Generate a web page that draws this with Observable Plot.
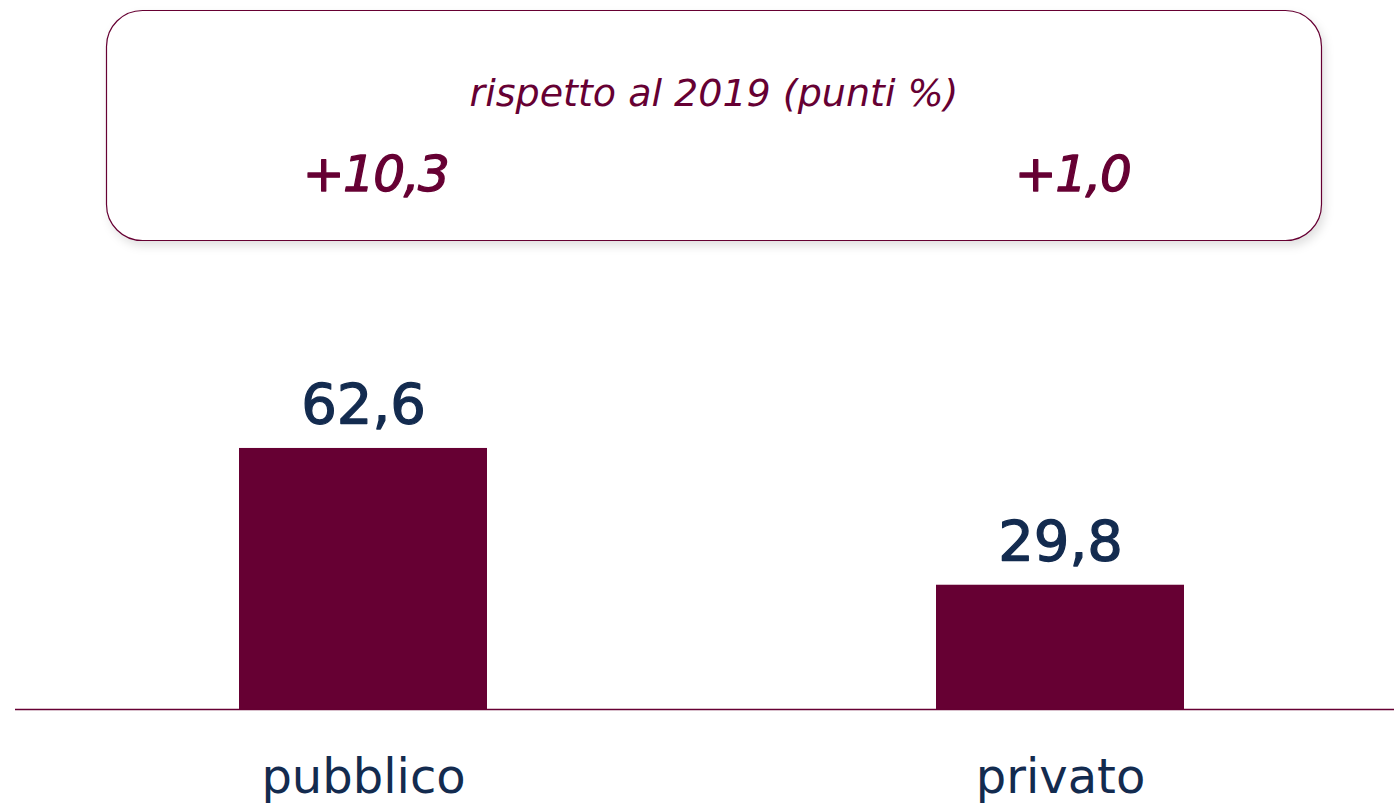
<!DOCTYPE html>
<html>
<head>
<meta charset="utf-8">
<script src="https://cdn.jsdelivr.net/npm/d3@7"></script>
<script src="https://cdn.jsdelivr.net/npm/@observablehq/plot@0.6"></script>
<style>
  html, body { margin: 0; padding: 0; background: #ffffff; }
  #chart { width: 1394px; height: 805px; }
</style>
</head>
<body>
<div id="chart"></div>
<script>
// ---- data ----
const categories = ["pubblico", "privato"];
const values = [62.6, 29.8];
const changes = [10.3, 1.0];
const subtitle = "rispetto al 2019 (punti %)";

const MAROON = "#660033";
const NAVY = "#132b4f";
const fmt = v => v.toFixed(1).replace(".", ",");
const fmtSigned = v => (v >= 0 ? "+" : "") + fmt(v);

const data = categories.map((c, i) => ({cat: c, value: values[i], change: changes[i]}));

const plot = Plot.plot({
  width: 1394,
  height: 805,
  marginLeft: 15,
  marginRight: 0,
  marginTop: 292,
  marginBottom: 96,
  style: {fontFamily: "DejaVu Sans", background: "transparent"},
  x: {domain: categories, paddingInner: 0.644, paddingOuter: 0.311, align: 0.516, label: null},
  y: {domain: [0, 100], axis: null},
  marks: [
    Plot.barY(data, {x: "cat", y: "value", fill: MAROON}),
    Plot.ruleY([0], {stroke: MAROON, strokeWidth: 1.6}),
    Plot.text(data, {
      x: "cat", y: "value", text: d => fmt(d.value),
      lineAnchor: "bottom", dy: -25, fontSize: 56,
      fill: NAVY, stroke: NAVY, strokeWidth: 1.3
    }),
    Plot.axisX({tickSize: 0, tickPadding: 49, fontSize: 48, fill: NAVY, label: null}),
    // numbers in the comparison box
    Plot.text(data, {
      x: "cat", frameAnchor: "top", text: d => fmtSigned(d.change),
      lineAnchor: "bottom", dy: -102, dx: 12, fontSize: 50, fontStyle: "italic",
      fill: MAROON, stroke: MAROON, strokeWidth: 1.3
    }),
    Plot.text([subtitle], {
      frameAnchor: "top", text: d => d,
      lineAnchor: "bottom", dy: -187, dx: 9, fontSize: 38, fontStyle: "italic",
      fill: MAROON
    })
  ]
});

document.getElementById("chart").appendChild(plot);

const svg = d3.select(plot);
// tighten the change numbers slightly
svg.selectAll("text").filter(function() { return /^\+/.test(this.textContent); })
  .attr("letter-spacing", "-1.5px");

// rounded comparison box with soft shadow (decoration behind the texts)
const defs = svg.insert("defs", ":first-child");
const f = defs.append("filter").attr("id", "boxshadow")
  .attr("x", "-5%").attr("y", "-10%").attr("width", "110%").attr("height", "125%");
f.append("feDropShadow").attr("dx", 3).attr("dy", 5).attr("stdDeviation", 5)
  .attr("flood-color", "#000").attr("flood-opacity", 0.12);
svg.insert("rect", "defs + *")
  .attr("x", 106.5).attr("y", 10.5).attr("width", 1215).attr("height", 230)
  .attr("rx", 36).attr("ry", 36)
  .attr("fill", "#ffffff").attr("stroke", MAROON).attr("stroke-width", 1.2)
  .attr("filter", "url(#boxshadow)");
</script>
</body>
</html>
